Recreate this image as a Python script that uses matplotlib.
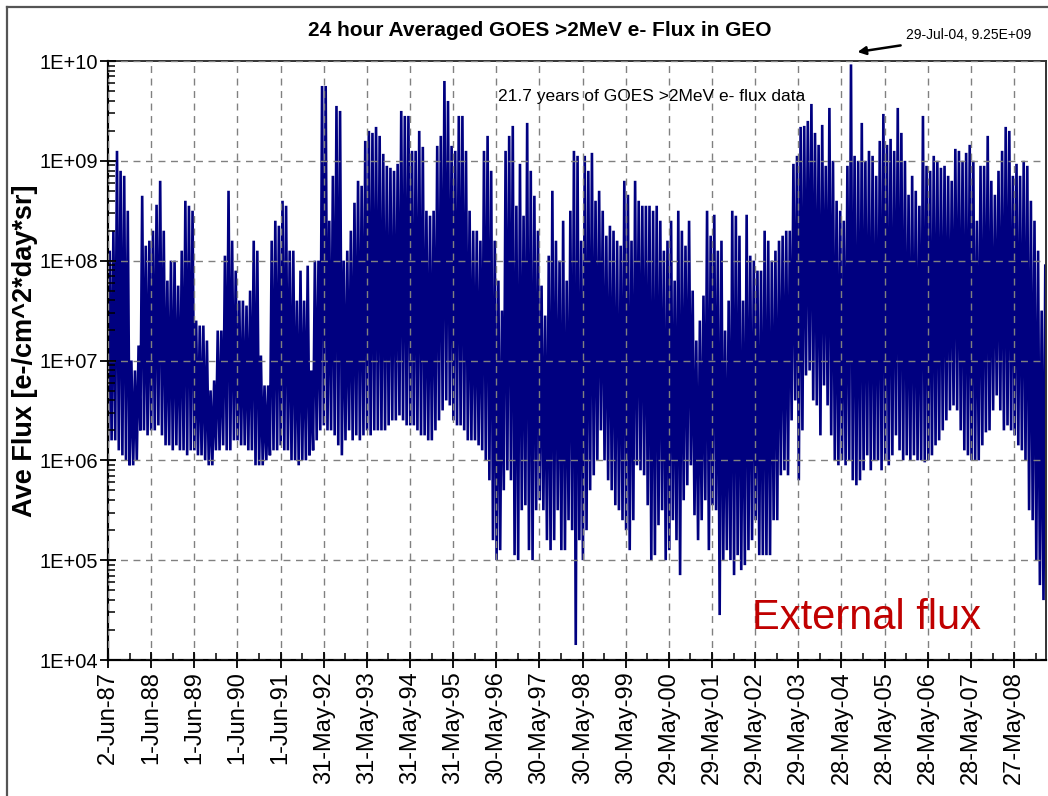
import numpy as np
import matplotlib
matplotlib.use("Agg")
import matplotlib.pyplot as plt
from matplotlib.lines import Line2D
from matplotlib.ticker import FixedLocator, FixedFormatter, LogLocator, NullFormatter

# monthly envelope of the daily >2MeV electron flux, log10(e-/cm^2*day*sr)
# each row runs June .. May of the following year
log_hi = [
    8.1, 8.3, 9.1, 8.9, 8.85, 8.5, 7.0, 6.9, 7.15, 8.65, 8.15, 8.2,        # 87-88
    8.3, 8.56, 8.8, 8.3, 7.8, 8.0, 8.0, 7.75, 8.1, 8.6, 8.55, 8.5,         # 88-89
    7.4, 7.35, 7.35, 7.2, 6.7, 6.8, 7.3, 7.3, 8.05, 8.7, 8.2, 7.9,         # 89-90
    7.6, 7.6, 7.55, 7.7, 8.2, 8.1, 7.05, 6.75, 6.75, 8.2, 8.4, 8.35,       # 90-91
    8.6, 8.55, 8.1, 8.1, 7.6, 7.9, 7.6, 7.95, 6.9, 8.0, 8.0, 9.75,         # 91-92
    9.75, 8.4, 8.85, 9.55, 9.5, 8.0, 8.1, 8.3, 8.58, 8.8, 8.75, 9.2,       # 92-93
    9.3, 9.28, 9.34, 9.25, 9.07, 8.95, 8.93, 8.9, 8.97, 9.5, 9.45, 9.45,   # 93-94
    9.1, 9.1, 9.3, 9.14, 8.5, 8.45, 8.5, 9.15, 9.25, 9.8, 9.6, 9.15,       # 94-95
    9.1, 9.45, 9.45, 9.1, 8.5, 8.3, 8.3, 8.2, 9.1, 9.25, 8.9, 8.2,         # 95-96
    7.8, 7.5, 9.1, 9.25, 9.35, 8.55, 8.97, 8.45, 9.38, 8.9, 8.65, 8.3,     # 96-97
    7.75, 7.45, 8.05, 8.7, 8.2, 8.0, 8.4, 7.8, 8.5, 9.1, 9.05, 8.2,        # 97-98
    9.05, 8.9, 9.08, 8.6, 8.7, 8.5, 8.25, 8.35, 8.3, 8.2, 8.15, 8.8,       # 98-99
    8.66, 8.2, 8.8, 8.6, 8.55, 8.55, 8.55, 8.5, 8.55, 8.4, 8.1, 8.2,       # 99-00
    8.4, 7.8, 8.5, 8.3, 8.15, 8.4, 7.7, 7.2, 7.4, 7.65, 8.5, 8.25,         # 00-01
    8.46, 8.1, 8.2, 7.3, 7.6, 8.5, 8.45, 8.25, 7.6, 8.46, 8.05, 8.0,       # 01-02
    7.9, 7.9, 8.3, 8.2, 8.0, 8.1, 8.2, 8.25, 8.3, 8.3, 8.97, 9.05,         # 02-03
    9.34, 9.35, 9.4, 9.57, 9.28, 9.16, 9.36, 8.95, 9.53, 9.0, 8.6, 8.5,    # 03-04
    8.4, 8.95, 9.966, 9.05, 9.0, 9.38, 9.0, 9.1, 9.05, 8.85, 9.2, 9.47,    # 04-05
    9.16, 9.22, 9.1, 9.53, 9.28, 9.0, 8.66, 8.85, 8.7, 8.55, 9.45, 8.95,   # 05-06
    8.9, 9.05, 9.0, 8.93, 8.95, 8.85, 8.8, 9.12, 9.1, 9.0, 9.08, 9.16,     # 06-07
    9.0, 8.4, 8.95, 8.95, 9.25, 8.8, 8.66, 8.9, 9.1, 9.34, 9.3, 8.85,      # 07-08
    8.97, 8.85, 9.0, 8.95, 8.6, 8.4, 8.1, 7.5, 7.95,                       # 08-09
]
log_lo = [
    6.2, 6.2, 6.2, 6.1, 6.05, 6.0, 5.95, 5.95, 6.0, 6.3, 6.3, 6.25,
    6.3, 6.3, 6.35, 6.25, 6.15, 6.15, 6.1, 6.15, 6.1, 6.1, 6.05, 6.1,
    6.1, 6.05, 6.05, 6.0, 5.95, 5.95, 6.1, 6.1, 6.15, 6.1, 6.1, 6.2,
    6.2, 6.15, 6.15, 6.1, 6.1, 5.95, 5.95, 5.95, 6.0, 6.05, 6.1, 6.1,
    6.15, 6.1, 6.1, 6.0, 6.0, 5.95, 6.0, 6.0, 6.05, 6.1, 6.2, 6.3,
    6.35, 6.3, 6.3, 6.25, 6.15, 6.05, 6.2, 6.3, 6.2, 6.25, 6.2, 6.25,
    6.3, 6.25, 6.3, 6.3, 6.3, 6.3, 6.35, 6.4, 6.4, 6.45, 6.4, 6.35,
    6.35, 6.35, 6.3, 6.25, 6.25, 6.2, 6.2, 6.3, 6.4, 6.5, 6.6, 6.55,
    6.4, 6.35, 6.35, 6.3, 6.2, 6.2, 6.2, 6.15, 6.1, 6.0, 5.8, 5.2,
    5.0, 5.1, 5.7, 5.9, 5.8, 5.05, 5.0, 5.5, 5.55, 5.1, 5.0, 5.5,
    5.6, 5.5, 5.2, 5.1, 5.2, 5.5, 5.1, 5.1, 5.4, 5.3, 4.15, 5.2,
    5.0, 5.3, 5.7, 5.85, 6.0, 6.3, 6.0, 5.8, 5.7, 5.55, 5.5, 5.4,
    5.3, 5.1, 5.4, 5.95, 5.9, 5.85, 5.55, 5.0, 5.05, 5.35, 5.5, 5.0,
    5.1, 5.4, 5.2, 4.85, 5.6, 5.75, 5.95, 5.45, 5.2, 5.4, 5.6, 5.1,
    5.55, 5.5, 4.45, 5.0, 5.1, 5.0, 4.85, 5.05, 4.9, 4.95, 5.1, 5.2,
    5.4, 5.05, 5.05, 5.05, 5.05, 5.4, 5.4, 5.85, 5.9, 5.85, 6.4, 6.6,
    5.8, 6.3, 6.85, 6.9, 6.6, 6.55, 6.25, 6.75, 6.55, 6.25, 6.0, 5.95,
    6.0, 5.95, 6.0, 5.8, 5.75, 5.8, 5.9, 6.05, 5.9, 6.0, 6.0, 5.9,
    6.0, 5.95, 6.05, 6.25, 6.1, 6.0, 6.05, 6.0, 6.05, 6.0, 6.0, 5.98,
    6.0, 6.05, 6.15, 6.2, 6.3, 6.4, 6.5, 6.55, 6.5, 6.3, 6.1, 6.05,
    6.0, 6.0, 6.0, 6.15, 6.28, 6.3, 6.5, 6.65, 6.5, 6.3, 6.35, 6.3,
    6.25, 6.15, 6.1, 6.0, 5.5, 5.4, 5.0, 4.75, 4.6,
]

tick_labels = ["2-Jun-87", "1-Jun-88", "1-Jun-89", "1-Jun-90", "1-Jun-91",
               "31-May-92", "31-May-93", "31-May-94", "31-May-95", "30-May-96",
               "30-May-97", "30-May-98", "30-May-99", "29-May-00", "29-May-01",
               "29-May-02", "29-May-03", "28-May-04", "28-May-05", "28-May-06",
               "28-May-07", "27-May-08"]
ytick_values = [1e4, 1e5, 1e6, 1e7, 1e8, 1e9, 1e10]
ytick_labels = ["1E+04", "1E+05", "1E+06", "1E+07", "1E+08", "1E+09", "1E+10"]

peak_label = "29-Jul-04, 9.25E+09"
peak_month = log_hi.index(max(log_hi))

plt.rcParams["font.family"] = "Liberation Sans"

W, H = 1048, 796
fig = plt.figure(figsize=(W / 100, H / 100), dpi=100)
fig.patch.set_facecolor("white")

def fx(px):
    return px / W

def fy(py):
    return 1 - py / H

ax = fig.add_axes([fx(108), fy(660), fx(1046) - fx(108), fy(61) - fy(660)])

# zigzag through the monthly low / high values, days since 2-Jun-87
days_per_month = 365.25 / 12
n = len(log_hi)
t = np.empty(2 * n)
f = np.empty(2 * n)
t[0::2] = np.arange(n) * days_per_month
t[1::2] = np.arange(n) * days_per_month + days_per_month / 2
f[0::2] = 10 ** np.array(log_lo)
f[1::2] = 10 ** np.array(log_hi)
ax.plot(t, f, color="#000080", lw=1.9, solid_joinstyle="miter", zorder=2)

ax.set_yscale("log")
ax.set_ylim(1e4, 1e10)
ax.set_xlim(0, 7935)

ax.yaxis.set_major_locator(FixedLocator(ytick_values))
ax.yaxis.set_major_formatter(FixedFormatter(ytick_labels))
ax.yaxis.set_minor_locator(LogLocator(base=10, subs=np.arange(2, 10)))
ax.yaxis.set_minor_formatter(NullFormatter())

xt = np.arange(len(tick_labels)) * 365
ax.xaxis.set_major_locator(FixedLocator(xt))
ax.xaxis.set_major_formatter(FixedFormatter(tick_labels))
ax.xaxis.set_minor_locator(FixedLocator(xt + 182.5))

ax.tick_params(axis="both", which="major", direction="inout", length=12, width=1.3, color="black")
ax.tick_params(axis="both", which="minor", direction="in", length=5, width=1.1, color="black")
ax.tick_params(axis="y", which="major", pad=1, labelsize=14.5)
ax.tick_params(axis="x", which="major", pad=2, labelsize=17, labelrotation=90)

ax.set_axisbelow(False)
ax.grid(True, which="major", color="#808080", lw=1.0, linestyle=(0, (5, 4)), zorder=3)

for side in ("left", "bottom"):
    ax.spines[side].set_linewidth(1.6)
    ax.spines[side].set_color("black")
for side in ("top", "right"):
    ax.spines[side].set_linewidth(1.4)
    ax.spines[side].set_color("#333333")

ax.set_ylabel("Ave Flux [e-/cm^2*day*sr]", fontsize=19.5, fontweight="bold")
ax.yaxis.set_label_coords(-(108 - 38) / (1046 - 108), (660 - 351) / (660 - 61))

fig.text(fx(540), fy(30), "24 hour Averaged GOES >2MeV e- Flux in GEO",
         fontweight="bold", fontsize=15, ha="center", va="center")
fig.text(fx(652), fy(97), "21.7 years of GOES >2MeV e- flux data",
         fontsize=12.5, ha="center", va="center")
fig.text(fx(867), fy(618), "External flux", color="#c00000", fontsize=30,
         ha="center", va="center")

peak_day = peak_month * days_per_month + days_per_month / 2
ax.annotate(peak_label, xy=(peak_day + 55, 10 ** 10.09), xycoords="data",
            xytext=(fx(906), fy(35)), textcoords="figure fraction",
            fontsize=10, ha="left", va="center",
            annotation_clip=False,
            arrowprops=dict(arrowstyle="-|>", color="black", lw=1.8,
                            mutation_scale=12, shrinkA=3, shrinkB=0))

# outer frame of the chart area
fig.add_artist(Line2D([fx(7), fx(7)], [fy(7), 0], color="#555555", lw=1.6))
fig.add_artist(Line2D([fx(7), 1], [fy(7), fy(7)], color="#555555", lw=1.6))

fig.savefig("out.png", dpi=100)
